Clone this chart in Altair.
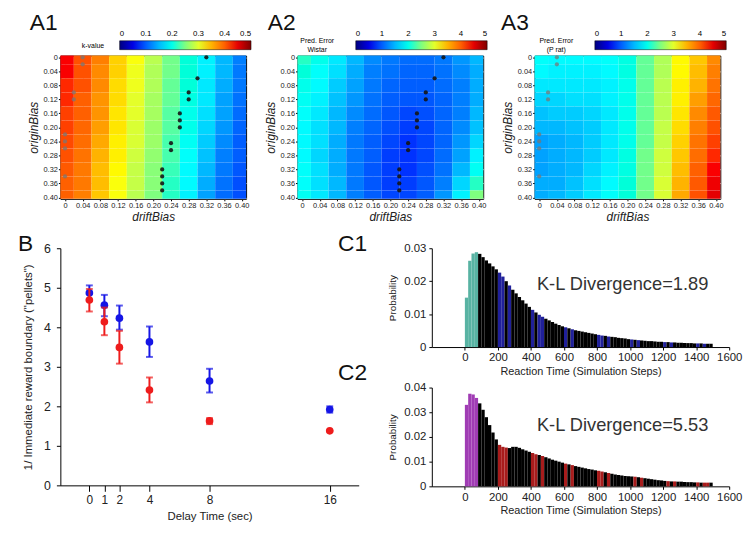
import altair as alt
import pandas as pd

FONT = "Liberation Sans"

# ---------------- Panel A data (11 x 11 grid, rows = originBias, cols = driftBias) ----
GRID = [0.00, 0.04, 0.08, 0.12, 0.16, 0.20, 0.24, 0.28, 0.32, 0.36, 0.40]

A1_K = [
    [.44, .41, .375, .335, .31, .28, .245, .21, .18, .15, .125],
    [.44, .41, .37, .335, .305, .275, .245, .21, .18, .15, .12],
    [.43, .41, .37, .33, .305, .275, .24, .21, .175, .145, .12],
    [.43, .40, .365, .33, .30, .27, .24, .205, .175, .14, .115],
    [.42, .40, .365, .325, .30, .27, .235, .20, .17, .14, .11],
    [.42, .395, .36, .325, .295, .265, .235, .20, .165, .135, .105],
    [.415, .39, .355, .32, .295, .265, .23, .195, .16, .13, .10],
    [.41, .385, .35, .32, .29, .26, .23, .19, .155, .125, .10],
    [.405, .38, .345, .315, .285, .255, .225, .185, .15, .12, .095],
    [.40, .38, .345, .31, .285, .255, .22, .185, .145, .115, .09],
    [.40, .375, .34, .31, .28, .25, .22, .18, .14, .11, .09],
]

A2_ERR = [
    [2.2, 2.0, 1.75, 1.5, 1.3, 1.2, 1.1, 1.1, 1.2, 1.35, 1.5],
    [2.1, 1.9, 1.7, 1.45, 1.25, 1.15, 1.05, 1.05, 1.15, 1.3, 1.45],
    [2.0, 1.85, 1.6, 1.4, 1.2, 1.05, 1.0, 1.0, 1.1, 1.25, 1.45],
    [1.95, 1.8, 1.55, 1.35, 1.15, 1.0, 0.95, 0.95, 1.05, 1.25, 1.45],
    [1.9, 1.75, 1.5, 1.3, 1.1, 0.95, 0.85, 0.9, 1.05, 1.25, 1.5],
    [1.85, 1.7, 1.5, 1.25, 1.05, 0.9, 0.8, 0.85, 1.05, 1.3, 1.55],
    [1.85, 1.7, 1.45, 1.2, 1.0, 0.85, 0.75, 0.85, 1.05, 1.35, 1.65],
    [1.85, 1.65, 1.45, 1.2, 1.0, 0.8, 0.75, 0.85, 1.1, 1.4, 1.8],
    [1.9, 1.7, 1.45, 1.2, 0.95, 0.8, 0.75, 0.9, 1.15, 1.5, 1.95],
    [1.9, 1.7, 1.5, 1.2, 0.95, 0.8, 0.8, 0.95, 1.25, 1.65, 2.2],
    [1.95, 1.75, 1.5, 1.25, 1.0, 0.85, 0.85, 1.0, 1.35, 1.8, 2.5],
]

A3_ERR = [
    [1.9, 1.85, 1.85, 1.85, 1.9, 2.05, 2.4, 2.75, 3.15, 3.4, 3.7],
    [1.85, 1.8, 1.8, 1.8, 1.85, 2.05, 2.4, 2.75, 3.15, 3.45, 3.75],
    [1.75, 1.75, 1.75, 1.75, 1.8, 2.0, 2.4, 2.8, 3.2, 3.5, 3.85],
    [1.65, 1.65, 1.7, 1.7, 1.8, 2.0, 2.4, 2.8, 3.2, 3.6, 3.95],
    [1.55, 1.6, 1.6, 1.65, 1.75, 2.0, 2.4, 2.8, 3.25, 3.7, 4.05],
    [1.5, 1.5, 1.55, 1.6, 1.75, 2.0, 2.4, 2.85, 3.3, 3.75, 4.1],
    [1.4, 1.45, 1.5, 1.6, 1.75, 2.0, 2.4, 2.85, 3.35, 3.85, 4.2],
    [1.4, 1.45, 1.5, 1.6, 1.75, 2.05, 2.45, 2.9, 3.4, 3.9, 4.3],
    [1.4, 1.45, 1.5, 1.65, 1.8, 2.05, 2.45, 2.9, 3.45, 4.0, 4.4],
    [1.45, 1.45, 1.55, 1.7, 1.85, 2.1, 2.45, 2.95, 3.5, 4.05, 4.45],
    [1.45, 1.5, 1.6, 1.75, 1.9, 2.1, 2.45, 2.95, 3.55, 4.1, 4.5],
]

BLACK_DRIFT = [0.32, 0.30, 0.28, 0.28, 0.26, 0.26, 0.26, 0.24, 0.24, 0.22, 0.22, 0.22, 0.22]
BLACK_ORIGIN = [0.00, 0.06, 0.10, 0.12, 0.16, 0.18, 0.20, 0.245, 0.265, 0.32, 0.34, 0.36, 0.38]
GRAY_DRIFT = [0.04, 0.04, 0.02, 0.02, 0.00, 0.00, 0.00, 0.00]
GRAY_ORIGIN = [0.00, 0.02, 0.10, 0.12, 0.22, 0.24, 0.26, 0.34]

JET = ["#00007f", "#0000ff", "#007fff", "#00ffff", "#7fff7f",
       "#ffff00", "#ff7f00", "#ff0000", "#7f0000"]

# ---------------- Panel B data ----------------
DELAY = [0, 1, 2, 4, 8, 16]
BLUE_MEAN = [4.87, 4.56, 4.23, 3.63, 2.64, 1.92]
BLUE_LO = [4.69, 4.28, 3.94, 3.25, 2.35, 1.84]
BLUE_HI = [5.06, 4.82, 4.55, 4.02, 2.95, 2.00]
RED_MEAN = [4.69, 4.14, 3.49, 2.41, 1.63, 1.38]
RED_LO = [4.40, 3.80, 3.08, 2.10, 1.55, 1.38]
RED_HI = [4.97, 4.50, 3.91, 2.73, 1.70, 1.38]

# ---------------- Panel C data (20-step bins from 0 to 1500) ----------------
BIN_W = 20
C1_PROB = [
    0.0150, 0.0262, 0.0284, 0.0288, 0.0283, 0.0273, 0.0263, 0.0254, 0.0245, 0.0236,
    0.0226, 0.0214, 0.0200, 0.0187, 0.0174, 0.0163, 0.0152, 0.0142, 0.0132, 0.0122,
    0.0113, 0.0105, 0.0098, 0.0092, 0.0086, 0.0081, 0.0076, 0.0071, 0.0067, 0.0063,
    0.0060, 0.0057, 0.0054, 0.0051, 0.0049, 0.0047, 0.0045, 0.0043, 0.0041, 0.0039,
    0.0037, 0.0035, 0.0034, 0.0032, 0.0031, 0.0030, 0.0028, 0.0027, 0.0026, 0.0024,
    0.0023, 0.0022, 0.0021, 0.0020, 0.0019, 0.0018, 0.0018, 0.0017, 0.0016, 0.0016,
    0.0015, 0.0015, 0.0014, 0.0014, 0.0013, 0.0013, 0.0012, 0.0012, 0.0012, 0.0011,
    0.0011, 0.0011, 0.0010, 0.0010, 0.0010,
]
C1_EARLY = [0, 20, 40, 60]
C1_STRIPES = [200, 220, 260, 400, 440, 460, 600, 640, 800, 820, 860,
              1000, 1040, 1200, 1240, 1400, 1440]
C2_PROB = [
    0.0330, 0.0375, 0.0372, 0.0358, 0.0336, 0.0310, 0.0280, 0.0248, 0.0218, 0.0190,
    0.0168, 0.0160, 0.0157, 0.0155, 0.0160, 0.0160, 0.0156, 0.0150, 0.0145, 0.0140,
    0.0135, 0.0130, 0.0127, 0.0123, 0.0118, 0.0113, 0.0108, 0.0104, 0.0100, 0.0096,
    0.0092, 0.0089, 0.0086, 0.0082, 0.0079, 0.0076, 0.0073, 0.0070, 0.0068, 0.0065,
    0.0063, 0.0060, 0.0057, 0.0054, 0.0051, 0.0048, 0.0046, 0.0044, 0.0042, 0.0041,
    0.0040, 0.0039, 0.0037, 0.0035, 0.0033, 0.0031, 0.0029, 0.0027, 0.0025, 0.0024,
    0.0022, 0.0021, 0.0020, 0.0020, 0.0019, 0.0019, 0.0018, 0.0017, 0.0017, 0.0016,
    0.0016, 0.0015, 0.0015, 0.0015, 0.0015,
]
C2_EARLY = [0, 20, 40, 60]
C2_STRIPES = [200, 220, 240, 400, 420, 460, 600, 640, 800, 820, 860,
              1020, 1060, 1220, 1260, 1400, 1440, 1460]

LBL2 = "datum.value == 0 ? '0' : format(datum.value, '.2f')"


def heat_frame(rows):
    recs = []
    for i, ob in enumerate(GRID):
        for j, db in enumerate(GRID):
            recs.append({"drift": db, "origin": ob, "v": rows[i][j]})
    return pd.DataFrame(recs)


def heatmap(rows, vmax, ticks, fmt, leg_title, leg_x, label, label_dx, gray, black):
    xs = alt.Scale(domain=[-0.0105, 0.41], nice=False, zero=False)
    ys = alt.Scale(domain=[-0.005, 0.404], nice=False, zero=False, reverse=True)
    xaxis = alt.Axis(values=GRID, labelExpr=LBL2, title="driftBias", titleFontStyle="italic",
                     titleFontSize=12, labelFontSize=7.5, tickSize=2, labelPadding=1,
                     titlePadding=2, domain=False, labelFlush=False, labelOverlap=False)
    yaxis = alt.Axis(values=GRID, labelExpr=LBL2, title="originBias", titleFontStyle="italic",
                     titleFontSize=12, labelFontSize=7.5, tickSize=2, labelPadding=1,
                     titlePadding=3, domain=False, labelFlush=False, labelOverlap=False)
    stops = [vmax * k / 8 for k in range(9)]
    cscale = alt.Scale(domain=stops, range=JET)
    legend = alt.Legend(
        type="gradient",
        orient="none", legendX=leg_x, legendY=-15, direction="horizontal",
        gradientLength=133, gradientThickness=9, title=leg_title, titleOrient="left",
        titleFontSize=7, titleFont=FONT, titleFontWeight="normal", titleAlign="center",
        titlePadding=4, values=ticks, format=fmt, labelFontSize=8, labelOffset={"expr": "-20"},
        labelAlign="center", labelOverlap=False, gradientStrokeColor="black",
        gradientStrokeWidth=0.5, labelFont=FONT, titleBaseline="middle",
    )
    base = alt.Chart(heat_frame(rows)).transform_calculate(
        x0="datum.drift - 0.02", x1="datum.drift + 0.02",
        y0="datum.origin - 0.02", y1="datum.origin + 0.02",
    )
    rect = base.mark_rect(clip=True).encode(
        x=alt.X("x0:Q", scale=xs, axis=xaxis),
        x2="x1:Q",
        y=alt.Y("y0:Q", scale=ys, axis=yaxis),
        y2="y1:Q",
        color=alt.Color("v:Q", scale=cscale, legend=legend),
    )
    layers = [rect]
    if gray:
        gdf = pd.DataFrame({"x0": GRAY_DRIFT, "y0": GRAY_ORIGIN})
        layers.append(alt.Chart(gdf).mark_circle(size=18, color="#777777", opacity=0.75).encode(
            x=alt.X("x0:Q", scale=xs, axis=xaxis), y=alt.Y("y0:Q", scale=ys, axis=yaxis)))
    if black:
        bdf = pd.DataFrame({"x0": BLACK_DRIFT, "y0": BLACK_ORIGIN})
        layers.append(alt.Chart(bdf).mark_circle(size=18, color="#151515", opacity=0.9).encode(
            x=alt.X("x0:Q", scale=xs, axis=xaxis), y=alt.Y("y0:Q", scale=ys, axis=yaxis)))
    return alt.layer(*layers).properties(
        width=188, height=145,
        view=alt.ViewBackground(stroke="black", strokeWidth=1),
        title=alt.Title(label, anchor="start", frame="group", dx=label_dx, dy=-2, fontSize=23),
    )


A1 = heatmap(A1_K, 0.5, [0, 0.1, 0.2, 0.3, 0.4, 0.5], ".1~f", "k-value", 22, "A1", -31, True, True)
A2 = heatmap(A2_ERR, 5, [0, 1, 2, 3, 4, 5], "d", ["Pred. Error", "Wistar"], 3, "A2", -30, False, True)
A3 = heatmap(A3_ERR, 5, [0, 1, 2, 3, 4, 5], "d", ["Pred. Error", "(P rat)"], 5, "A3", -34, True, False)

top = alt.hconcat(A1, A2, A3, spacing=52, bounds="flush").resolve_scale(color="independent")

# ---------------- Panel B ----------------
bdf = pd.DataFrame({
    "delay": DELAY + DELAY,
    "mean": BLUE_MEAN + RED_MEAN,
    "lo": BLUE_LO + RED_LO,
    "hi": BLUE_HI + RED_HI,
    "series": ["blue"] * 6 + ["red"] * 6,
})
bx = alt.Scale(domain=[-1.93, 17.93], nice=False, zero=False)
by = alt.Scale(domain=[0, 6], nice=False)
bxaxis = alt.Axis(values=DELAY, title="Delay Time (sec)", labelFontSize=12, titleFontSize=11.5,
                  tickSize=6, labelPadding=3, titlePadding=6, grid=False, labelFlush=False)
byaxis = alt.Axis(values=[0, 1, 2, 3, 4, 5, 6], title='1/ Immediate reward boundary ("pellets")',
                  labelFontSize=12.5, titleFontSize=11.5, tickSize=4, labelPadding=6,
                  titlePadding=10, grid=False, labelFlush=False)
COLB = {"blue": "#1515e6", "red": "#ee1c1c"}
blayers = []
for s in ["blue", "red"]:
    d = bdf[bdf.series == s]
    blayers.append(alt.Chart(d).mark_errorbar(ticks=True, thickness=2, size=7, color=COLB[s]).encode(
        x=alt.X("delay:Q", scale=bx, axis=bxaxis),
        y=alt.Y("lo:Q", scale=by, axis=byaxis),
        y2="hi:Q"))
    blayers.append(alt.Chart(d).mark_circle(size=60, opacity=1, color=COLB[s]).encode(
        x=alt.X("delay:Q", scale=bx, axis=bxaxis), y=alt.Y("mean:Q", scale=by, axis=byaxis)))
B = alt.layer(*blayers).properties(
    width=302, height=240,
    title=alt.Title("B", anchor="start", frame="group", dx=-43, dy=18, fontSize=23),
)


# ---------------- Panel C ----------------
def hist(probs, early, stripes, early_col, stripe_col, ymax, yvals, label, label_dy, kl, kl_y):
    starts = [i * BIN_W for i in range(len(probs))]
    kinds = []
    for s in starts:
        if s in early:
            kinds.append("early")
        elif s in stripes:
            kinds.append("stripe")
        else:
            kinds.append("sim")
    df = pd.DataFrame({"start": starts, "prob": probs, "kind": kinds})
    cx = alt.Scale(domain=[-200, 1600], nice=False, zero=False)
    cy = alt.Scale(domain=[0, ymax], nice=False)
    xaxis = alt.Axis(values=list(range(0, 1601, 200)), format="d",
                     title="Reaction Time (Simulation Steps)",
                     labelFontSize=11.5, titleFontSize=11, tickSize=3, labelPadding=2,
                     titlePadding=2, grid=False, labelOverlap=False, labelFlush=False)
    yaxis = alt.Axis(values=yvals, labelExpr=LBL2, title="Probability", labelFontSize=11.5,
                     titleFontSize=10, tickSize=3, labelPadding=3, titlePadding=6, grid=False,
                     labelFlush=False)
    bars = alt.Chart(df).transform_calculate(end="datum.start + 20").mark_rect().encode(
        x=alt.X("start:Q", scale=cx, axis=xaxis),
        x2="end:Q",
        y=alt.Y("prob:Q", scale=cy, axis=yaxis),
        y2=alt.datum(0),
        color=alt.Color("kind:N", scale=alt.Scale(domain=["sim", "early", "stripe"],
                                                  range=["#000000", early_col, stripe_col]),
                        legend=None),
    )
    tdf = pd.DataFrame({"x": [955], "y": [kl_y], "t": [kl]})
    txt = alt.Chart(tdf).mark_text(fontSize=18.5, font=FONT, color="#333333").encode(
        x=alt.X("x:Q", scale=cx, axis=xaxis), y=alt.Y("y:Q", scale=cy, axis=yaxis), text="t:N")
    return alt.layer(bars, txt).properties(
        width=301, height=100,
        title=alt.Title(label, anchor="start", frame="group", dx=-95, dy=label_dy, fontSize=23),
    )


C1 = hist(C1_PROB, C1_EARLY, C1_STRIPES, "#58b3a3", "#20209a", 0.03, [0, 0.01, 0.02, 0.03],
          "C1", 18, "K-L Divergence=1.89", 0.0192)
C2 = hist(C2_PROB, C2_EARLY, C2_STRIPES, "#a03cb4", "#a81c1c", 0.04, [0, 0.01, 0.02, 0.03, 0.04],
          "C2", 7, "K-L Divergence=5.53", 0.025)

ccol = alt.vconcat(C1, C2, spacing=41, bounds="flush").resolve_scale(color="independent")
bottom = alt.hconcat(B, ccol, spacing=74, bounds="flush").resolve_scale(color="independent")

chart = alt.vconcat(top, bottom, spacing=11).resolve_scale(color="independent").properties(
    padding={"left": 10, "top": 0, "right": 4, "bottom": 4}
).configure(font=FONT).configure_view(stroke=None).configure_axis(
    domainColor="black", tickColor="black", labelColor="#222222", titleColor="#222222",
    labelFont=FONT, titleFont=FONT, titleFontWeight="normal",
).configure_title(font=FONT, fontWeight="normal", color="#111111")

chart.save("out.html", embed_options={"renderer": "svg", "actions": False})
